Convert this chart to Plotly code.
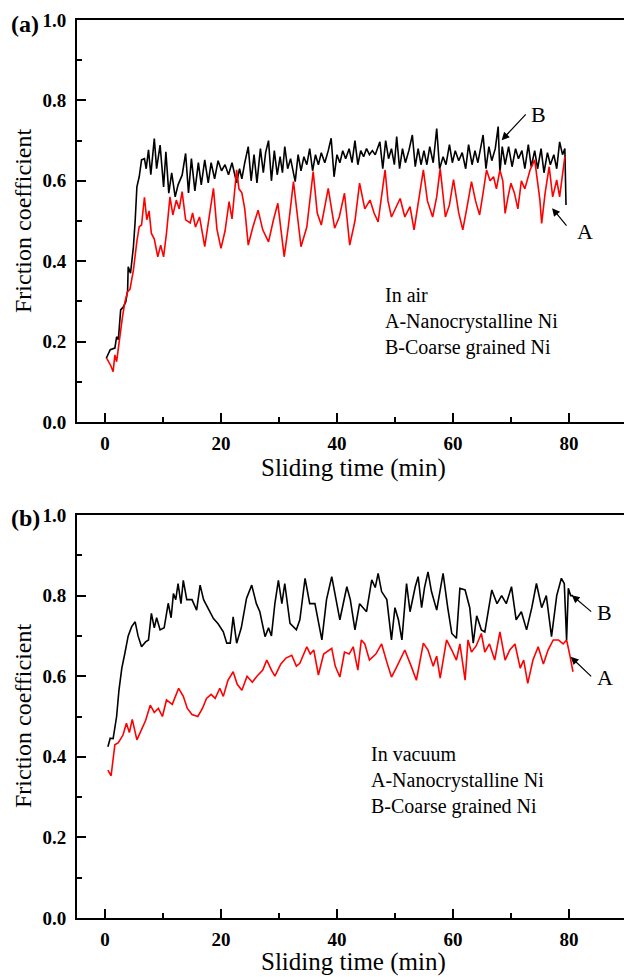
import plotly.graph_objects as go

# ---------------- data ----------------
# (a) In air, A - Nanocrystalline Ni (red)
air_a_t = [0.3,1.0,1.4,1.7,2.0,2.5,3.0,3.4,3.9,4.3,4.9,5.5,5.9,6.3,6.8,7.2,7.6,8.0,8.5,9.1,9.6,10.1,10.6,11.2,11.7,12.3,12.8,13.3,13.9,14.7,15.1,15.6,16.3,17.2,17.8,18.7,19.3,20.0,20.7,21.4,21.9,22.7,23.1,23.6,24.1,24.7,25.5,26.4,27.2,28.2,29.0,29.8,30.9,31.6,32.5,33.3,33.8,34.8,35.9,36.6,37.3,38.5,39.6,40.4,41.3,42.2,43.1,43.9,44.8,45.7,46.4,47.1,48.3,48.8,49.4,50.9,51.7,52.6,53.3,54.9,55.6,56.5,57.2,57.8,58.7,59.4,60.1,61.0,61.7,62.5,63.2,63.9,64.6,65.2,65.8,66.4,67.0,67.5,68.1,68.6,69.0,69.5,70.0,70.6,71.2,71.8,72.4,73.3,74.1,75.0,75.3,75.9,76.6,77.2,77.9,78.4,78.8,79.3]
air_a_mu = [0.158,0.14,0.125,0.167,0.15,0.212,0.26,0.296,0.324,0.33,0.378,0.45,0.486,0.49,0.559,0.503,0.525,0.469,0.455,0.411,0.44,0.411,0.469,0.56,0.515,0.552,0.53,0.573,0.503,0.495,0.52,0.485,0.51,0.436,0.495,0.581,0.48,0.432,0.475,0.548,0.505,0.627,0.58,0.57,0.53,0.44,0.485,0.527,0.478,0.448,0.5,0.544,0.411,0.485,0.598,0.5,0.436,0.485,0.623,0.52,0.49,0.581,0.482,0.51,0.569,0.44,0.5,0.594,0.53,0.552,0.52,0.498,0.627,0.55,0.51,0.556,0.51,0.536,0.478,0.627,0.55,0.51,0.56,0.631,0.51,0.54,0.603,0.52,0.478,0.54,0.598,0.55,0.515,0.57,0.627,0.6,0.61,0.58,0.627,0.6,0.519,0.56,0.594,0.57,0.53,0.6,0.58,0.627,0.652,0.552,0.494,0.57,0.635,0.56,0.602,0.56,0.6,0.66]

# (a) In air, B - Coarse grained Ni (black)
air_b_t = [0.2,0.9,1.7,2.0,2.3,2.7,3.2,3.6,3.9,4.0,4.4,4.9,5.2,5.5,5.9,6.3,6.8,7.1,7.5,7.9,8.5,8.9,9.5,10.1,10.5,11.0,11.5,12.1,12.6,13.3,13.9,14.4,14.9,15.5,16.1,16.6,17.2,17.8,18.3,18.9,19.5,20.1,20.7,21.3,21.9,22.7,23.2,23.6,24.1,24.7,25.2,25.7,26.2,26.8,27.3,27.7,28.2,28.7,29.2,29.7,30.2,30.6,31.0,31.5,32.0,32.8,33.3,33.8,34.3,34.8,35.3,35.8,36.3,36.8,37.3,37.9,38.5,39.0,39.5,40.0,40.5,41.0,41.5,42.1,42.6,43.1,43.6,44.1,44.6,45.1,45.6,46.1,46.6,47.4,47.9,48.4,48.9,49.4,49.9,50.3,50.8,51.3,51.8,52.4,53.0,53.5,54.0,54.5,55.0,55.5,56.0,56.6,57.2,57.7,58.3,58.8,59.4,59.9,60.4,61.0,61.6,62.2,62.7,63.3,63.8,64.3,65.2,65.7,66.2,66.7,67.3,67.8,68.1,68.5,69.0,69.6,70.2,70.8,71.3,71.9,72.4,73.0,73.5,74.1,74.6,75.2,75.7,76.3,76.8,77.4,77.9,78.4,78.9,79.3,79.5]
air_b_mu = [0.158,0.18,0.184,0.212,0.205,0.279,0.287,0.30,0.328,0.386,0.37,0.436,0.50,0.585,0.61,0.652,0.655,0.63,0.677,0.615,0.705,0.63,0.689,0.585,0.672,0.569,0.62,0.56,0.59,0.614,0.668,0.57,0.655,0.575,0.645,0.59,0.652,0.595,0.645,0.605,0.65,0.625,0.64,0.615,0.645,0.595,0.63,0.605,0.645,0.685,0.60,0.665,0.595,0.68,0.62,0.67,0.70,0.60,0.675,0.615,0.66,0.62,0.685,0.63,0.655,0.598,0.665,0.625,0.66,0.64,0.68,0.625,0.665,0.64,0.67,0.645,0.675,0.706,0.61,0.665,0.645,0.675,0.655,0.68,0.645,0.70,0.64,0.675,0.66,0.68,0.665,0.675,0.665,0.697,0.63,0.70,0.655,0.68,0.64,0.71,0.63,0.68,0.645,0.675,0.714,0.635,0.68,0.64,0.675,0.64,0.685,0.645,0.73,0.63,0.66,0.64,0.69,0.645,0.675,0.65,0.67,0.63,0.69,0.64,0.675,0.645,0.714,0.63,0.685,0.65,0.68,0.735,0.62,0.685,0.64,0.685,0.635,0.68,0.655,0.675,0.63,0.69,0.635,0.675,0.63,0.68,0.62,0.67,0.64,0.665,0.63,0.697,0.665,0.68,0.54]

# (b) In vacuum, A - Nanocrystalline Ni (red)
vac_a_t = [0.5,1.05,1.7,2.3,3.1,3.7,4.2,4.7,5.5,6.2,7.0,7.8,8.5,9.2,9.9,10.6,11.6,12.7,13.5,14.2,15.0,16.0,16.8,17.5,18.3,19.0,19.8,20.4,21.2,22.1,22.8,23.6,24.5,25.4,26.2,27.2,27.9,28.7,29.3,30.3,31.2,32.2,33.0,33.6,34.8,35.4,36.0,36.8,37.7,39.1,39.7,40.5,41.3,42.1,42.8,43.6,44.2,44.8,45.6,46.7,47.7,48.6,49.4,50.2,51.7,52.8,53.7,54.9,55.7,56.6,57.2,57.8,58.9,59.8,60.6,61.2,62.1,62.6,63.2,64.0,64.9,65.5,66.3,67.2,68.1,69.0,69.8,70.7,71.6,72.2,72.9,73.8,74.7,75.6,76.4,77.3,78.2,79.0,79.6,80.2,80.7]
vac_a_mu = [0.367,0.353,0.43,0.435,0.454,0.483,0.46,0.493,0.442,0.465,0.49,0.528,0.51,0.52,0.50,0.541,0.53,0.57,0.55,0.52,0.505,0.50,0.52,0.545,0.555,0.545,0.57,0.55,0.59,0.611,0.58,0.565,0.60,0.585,0.60,0.615,0.64,0.615,0.60,0.63,0.645,0.652,0.625,0.632,0.673,0.655,0.665,0.603,0.655,0.669,0.625,0.598,0.66,0.655,0.673,0.615,0.69,0.68,0.64,0.655,0.68,0.635,0.598,0.62,0.665,0.625,0.59,0.682,0.665,0.625,0.65,0.595,0.69,0.665,0.64,0.68,0.59,0.69,0.66,0.675,0.706,0.66,0.68,0.64,0.71,0.64,0.665,0.68,0.62,0.64,0.582,0.64,0.673,0.63,0.665,0.69,0.69,0.68,0.69,0.649,0.611]

# (b) In vacuum, B - Coarse grained Ni (black)
vac_b_t = [0.5,0.9,1.4,2.0,2.4,2.9,3.4,4.0,4.6,5.2,5.7,6.3,7.0,7.5,8.0,8.5,8.9,9.5,10.2,10.9,11.4,11.8,12.2,12.6,13.1,13.5,14.1,15.0,15.8,16.4,17.0,17.9,18.7,19.5,20.4,21.0,21.6,22.1,22.7,23.5,24.4,25.3,26.1,26.7,27.6,28.2,28.7,29.3,29.9,30.5,31.0,31.9,33.0,33.6,34.5,35.3,36.2,37.4,38.2,39.1,40.0,40.5,41.7,42.3,43.1,43.9,45.1,46.0,46.6,47.1,47.7,48.6,49.4,50.0,50.6,51.2,52.0,52.6,53.5,54.0,54.6,55.1,55.7,56.3,57.2,58.3,59.1,59.8,60.6,61.2,62.1,62.9,63.5,64.1,64.9,65.5,66.7,67.6,68.4,69.2,70.1,70.9,71.8,72.7,73.6,74.4,75.3,76.1,77.0,77.9,78.7,79.2,79.6,79.9,80.3,80.7]
vac_b_mu = [0.425,0.446,0.445,0.50,0.565,0.62,0.655,0.70,0.723,0.735,0.70,0.673,0.685,0.69,0.756,0.72,0.745,0.715,0.72,0.781,0.745,0.805,0.79,0.83,0.78,0.838,0.79,0.79,0.764,0.826,0.79,0.765,0.743,0.73,0.71,0.682,0.682,0.747,0.682,0.72,0.793,0.826,0.78,0.76,0.698,0.72,0.70,0.781,0.838,0.78,0.83,0.731,0.715,0.74,0.843,0.78,0.78,0.69,0.79,0.847,0.78,0.74,0.822,0.79,0.715,0.78,0.76,0.839,0.82,0.855,0.81,0.79,0.69,0.77,0.74,0.69,0.83,0.76,0.822,0.847,0.77,0.82,0.859,0.81,0.764,0.855,0.77,0.706,0.694,0.818,0.814,0.77,0.682,0.75,0.715,0.71,0.814,0.78,0.80,0.78,0.822,0.74,0.76,0.715,0.77,0.83,0.77,0.80,0.698,0.80,0.843,0.83,0.69,0.818,0.80,0.80]

x_ticks = [0, 20, 40, 60, 80]
y_ticks = [0.0, 0.2, 0.4, 0.6, 0.8, 1.0]
y_ticktext = ["0.0", "0.2", "0.4", "0.6", "0.8", "1.0"]

# ---------------- figure ----------------
SERIF = "Liberation Serif, Times New Roman, serif"
W, H = 624, 977
ML, MR, MT, MB = 77, 0, 20, 59

fig = go.Figure()
fig.add_trace(go.Scatter(x=air_b_t, y=air_b_mu, mode="lines", line=dict(color="#000000", width=1.6),
                         xaxis="x", yaxis="y", showlegend=False))
fig.add_trace(go.Scatter(x=air_a_t, y=air_a_mu, mode="lines", line=dict(color="#ff0000", width=1.6),
                         xaxis="x", yaxis="y", showlegend=False))
fig.add_trace(go.Scatter(x=vac_b_t, y=vac_b_mu, mode="lines", line=dict(color="#000000", width=1.6),
                         xaxis="x2", yaxis="y2", showlegend=False))
fig.add_trace(go.Scatter(x=vac_a_t, y=vac_a_mu, mode="lines", line=dict(color="#ff0000", width=1.6),
                         xaxis="x2", yaxis="y2", showlegend=False))

tickfont = dict(family=SERIF, size=19, color="#000", weight="bold")
xcommon = dict(range=[-4.83, 89.5], tickvals=x_ticks, ticktext=[str(v) for v in x_ticks],
               ticks="inside", ticklen=9, tickwidth=2, tickcolor="#000", automargin=False,
               showline=True, linewidth=2, linecolor="#000", mirror=True,
               showgrid=False, zeroline=False, tickfont=tickfont, ticklabelstandoff=3,
               minor=dict(dtick=10, tick0=0, ticks="inside", ticklen=5, tickwidth=2, tickcolor="#000"))
ycommon = dict(range=[0, 1.0], tickvals=y_ticks, ticktext=y_ticktext,
               ticks="inside", ticklen=9, tickwidth=2, tickcolor="#000", automargin=False,
               showline=True, linewidth=2, linecolor="#000", mirror=True,
               showgrid=False, zeroline=False, tickfont=tickfont, ticklabelstandoff=5,
               minor=dict(dtick=0.1, tick0=0, ticks="inside", ticklen=5, tickwidth=2, tickcolor="#000"))

top_dom = [(918 - 422) / 898, 1.0]
bot_dom = [0.0, (918 - 515) / 898]

fig.update_layout(
    width=W, height=H,
    margin=dict(l=ML, r=MR, t=MT, b=MB, autoexpand=False),
    paper_bgcolor="white", plot_bgcolor="white",
    xaxis=dict(domain=[0, 1], anchor="y", **xcommon),
    yaxis=dict(domain=top_dom, anchor="x", **ycommon),
    xaxis2=dict(domain=[0, 1], anchor="y2", **xcommon),
    yaxis2=dict(domain=bot_dom, anchor="x2", **ycommon),
    font=dict(family=SERIF, color="#000"),
)

def px2paper_x(px):
    return (px - ML) / (W - ML - MR)

def px2paper_y(py):
    return (918 - py) / 898

anns = []
title_font = dict(family=SERIF, size=25, color="#000")
# axis titles
for cy in (221, 716):
    anns.append(dict(text="Friction coefficient", xref="paper", yref="paper",
                     x=px2paper_x(23), y=px2paper_y(cy), textangle=-90, showarrow=False,
                     xanchor="center", yanchor="middle", font=dict(family=SERIF, size=24, color="#000")))
for cy in (468, 962):
    anns.append(dict(text="Sliding time (min)", xref="paper", yref="paper",
                     x=px2paper_x(353), y=px2paper_y(cy), showarrow=False,
                     xanchor="center", yanchor="middle", font=title_font))
# panel labels
for lab, cy in (("(a)", 24), ("(b)", 518)):
    anns.append(dict(text=lab, xref="paper", yref="paper", x=px2paper_x(25), y=px2paper_y(cy),
                     showarrow=False, xanchor="center", yanchor="middle",
                     font=dict(family=SERIF, size=24, color="#000", weight="bold")))

txt_font = dict(family=SERIF, size=20, color="#000")
anns.append(dict(text="In air<br>A-Nanocrystalline Ni<br>B-Coarse grained Ni", xref="x", yref="y",
                 x=47.9, y=0.249, showarrow=False, xanchor="left", yanchor="middle", align="left",
                 font=txt_font))
anns.append(dict(text="In vacuum<br>A-Nanocrystalline Ni<br>B-Coarse grained Ni", xref="x2", yref="y2",
                 x=45.5, y=0.342, showarrow=False, xanchor="left", yanchor="middle", align="left",
                 font=txt_font))

# series labels
for xr, yr, lab, x, y in (("x", "y", "B", 74.7, 0.764), ("x", "y", "A", 82.8, 0.473),
                          ("x2", "y2", "B", 86.2, 0.757), ("x2", "y2", "A", 86.2, 0.596)):
    anns.append(dict(text=lab, xref=xr, yref=yr, x=x, y=y, showarrow=False,
                     xanchor="center", yanchor="middle", font=dict(family=SERIF, size=22, color="#000")))

# arrows (tip -> tail in data coords)
for xr, yr, tip, tail in (("x", "y", (68.4, 0.701), (72.8, 0.769)),
                          ("x", "y", (77.1, 0.532), (79.8, 0.485)),
                          ("x2", "y2", (80.5, 0.801), (84.1, 0.757)),
                          ("x2", "y2", (80.3, 0.648), (84.1, 0.596))):
    anns.append(dict(text="", xref=xr, yref=yr, axref=xr, ayref=yr,
                     x=tip[0], y=tip[1], ax=tail[0], ay=tail[1], showarrow=True,
                     arrowhead=2, arrowsize=1.3, arrowwidth=1.2, arrowcolor="#000"))

fig.update_layout(annotations=anns)
fig.write_html("out.html", config={"displayModeBar": False},
               post_script="document.body.style.margin='0px';document.body.style.overflow='hidden';")
